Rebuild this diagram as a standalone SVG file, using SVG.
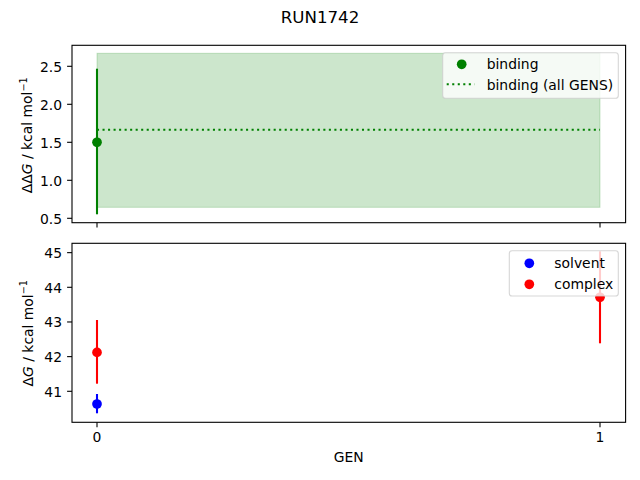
<svg xmlns="http://www.w3.org/2000/svg" width="640" height="480" viewBox="0 0 640 480">
<style>
text{font-family:"DejaVu Sans",sans-serif;font-size:13.9px;fill:#000}
.t{text-anchor:end}
.c{text-anchor:middle}
.spine{fill:none;stroke:#000;stroke-width:1.1}
.tick{stroke:#000;stroke-width:1.1}
.leg{fill:#fff;fill-opacity:0.8;stroke:#ccc;stroke-opacity:0.8;stroke-width:1.1}
</style>
<rect width="640" height="480" fill="#fff"/>
<text class="c" x="320" y="22.7" style="font-size:16.67px">RUN1742</text>

<g id="top-axes">
<rect x="97" y="53.3" width="503" height="154" fill="#008000" fill-opacity="0.2" stroke="#008000" stroke-opacity="0.2" stroke-width="1"/>
<line x1="97" y1="129.7" x2="600" y2="129.7" stroke="#008000" stroke-width="2.08" stroke-dasharray="2.08 3.44"/>
<line x1="97" y1="68.7" x2="97" y2="214.3" stroke="#008000" stroke-width="2.08"/>
<circle cx="97" cy="142.3" r="4.85" fill="#008000"/>
<rect class="spine" x="72" y="45.3" width="553.6" height="177.4"/>
<g class="tick">
<line x1="72" y1="66.3" x2="67.1" y2="66.3"/>
<line x1="72" y1="104.3" x2="67.1" y2="104.3"/>
<line x1="72" y1="142.3" x2="67.1" y2="142.3"/>
<line x1="72" y1="180.3" x2="67.1" y2="180.3"/>
<line x1="72" y1="218.3" x2="67.1" y2="218.3"/>
<line x1="97" y1="222.7" x2="97" y2="227.6"/>
<line x1="600" y1="222.7" x2="600" y2="227.6"/>
</g>
<text class="t" x="62" y="71.6">2.5</text>
<text class="t" x="62" y="109.6">2.0</text>
<text class="t" x="62" y="147.6">1.5</text>
<text class="t" x="62" y="185.6">1.0</text>
<text class="t" x="62" y="223.6">0.5</text>
<text class="c" transform="translate(32,135.3) rotate(-90)">ΔΔ<tspan font-style="italic">G</tspan> / kcal mol<tspan dy="-5.5" style="font-size:9.7px">−1</tspan></text>
<g id="top-legend">
<rect class="leg" x="442.7" y="52.7" width="175.6" height="45.6" rx="2.8"/>
<circle cx="461.7" cy="64.3" r="4.85" fill="#008000"/>
<line x1="446.7" y1="84.3" x2="474.5" y2="84.3" stroke="#008000" stroke-width="2.08" stroke-dasharray="2.08 3.44"/>
<text x="486.7" y="69.4">binding</text>
<text x="486.7" y="89.6">binding (all GENS)</text>
</g>
</g>

<g id="bottom-axes">
<line x1="97" y1="320" x2="97" y2="383.7" stroke="#ff0000" stroke-width="2.08"/>
<circle cx="97" cy="352.4" r="4.85" fill="#ff0000"/>
<line x1="97" y1="394" x2="97" y2="413.3" stroke="#0000ff" stroke-width="2.08"/>
<circle cx="97" cy="404" r="4.85" fill="#0000ff"/>
<line x1="600" y1="251.3" x2="600" y2="343.3" stroke="#ff0000" stroke-width="2.08"/>
<circle cx="600" cy="297.3" r="4.85" fill="#ff0000"/>
<rect class="spine" x="72" y="243.3" width="553.6" height="179"/>
<g class="tick">
<line x1="72" y1="252.65" x2="67.1" y2="252.65"/>
<line x1="72" y1="287.3" x2="67.1" y2="287.3"/>
<line x1="72" y1="321.97" x2="67.1" y2="321.97"/>
<line x1="72" y1="356.63" x2="67.1" y2="356.63"/>
<line x1="72" y1="391.3" x2="67.1" y2="391.3"/>
<line x1="97" y1="422.3" x2="97" y2="427.2"/>
<line x1="600" y1="422.3" x2="600" y2="427.2"/>
</g>
<text class="t" x="62" y="258">45</text>
<text class="t" x="62" y="292.6">44</text>
<text class="t" x="62" y="327.3">43</text>
<text class="t" x="62" y="361.9">42</text>
<text class="t" x="62" y="396.6">41</text>
<text class="c" x="97" y="441.8">0</text>
<text class="c" x="600" y="441.8">1</text>
<text class="c" x="348.8" y="461.7">GEN</text>
<text class="c" transform="translate(32.7,333.2) rotate(-90)">Δ<tspan font-style="italic">G</tspan> / kcal mol<tspan dy="-5.5" style="font-size:9.7px">−1</tspan></text>
<g id="bottom-legend">
<rect class="leg" x="509.3" y="250.7" width="109" height="45.3" rx="2.8"/>
<circle cx="529.3" cy="263.3" r="4.85" fill="#0000ff"/>
<circle cx="529.3" cy="284.3" r="4.85" fill="#ff0000"/>
<text x="554.3" y="268.4">solvent</text>
<text x="554.3" y="289.4">complex</text>
</g>
</g>
</svg>
